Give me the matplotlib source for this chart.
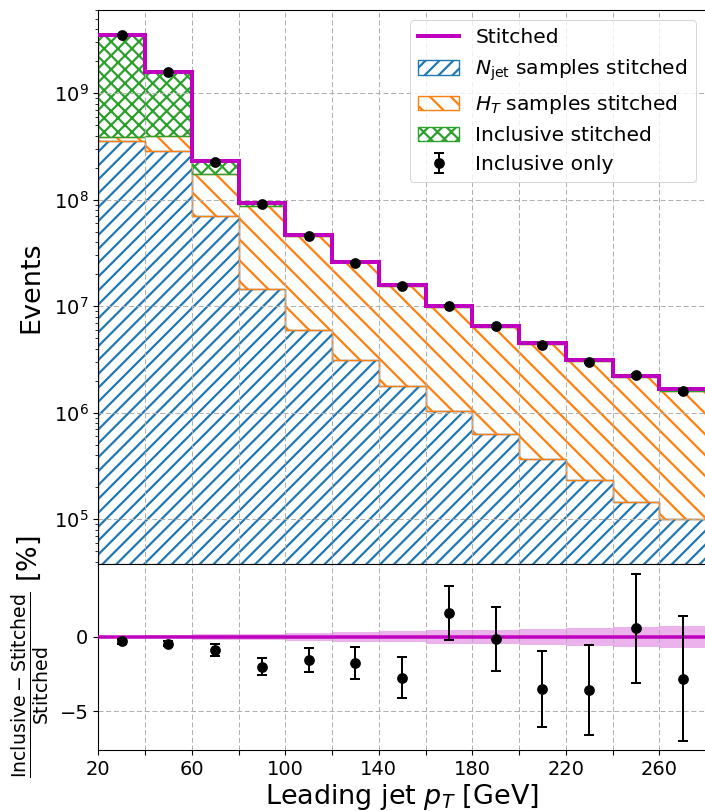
import matplotlib

matplotlib.use("Agg")
import matplotlib.pyplot as plt
import numpy as np

# hatch spacing scales with dpi, so the figure is drawn at 125 dpi; sizes are given in pixels
DPI = 125


def px(v):
    return v * 72.0 / DPI


edges = np.arange(20, 281, 20)

# stacked contributions per leading-jet pT bin
njet = [3.59e8, 2.89e8, 6.97e7, 1.44e7, 5.96e6, 3.11e6, 1.77e6, 1.04e6, 6.27e5, 3.67e5, 2.33e5, 1.46e5, 1.0e5]
ht = [2.8e7, 1.08e8, 1.03e8, 7.3e7, 4.0e7, 2.28e7, 1.38e7, 8.8e6, 5.75e6, 4.05e6, 2.8e6, 2.02e6, 1.5e6]
incl = [3.163e9, 1.203e9, 5.8e7, 6.6e6, 9.4e5, 3.0e5, 3.3e5, 1.6e5, 1.2e5, 1.0e5, 7.7e4, 6.4e4, 6.0e4]

# (inclusive - stitched) / stitched in percent, its error, and the stitched uncertainty band
ratio_pct = [-0.3, -0.45, -0.9, -2.0, -1.57, -1.75, -2.73, 1.61, -0.15, -3.5, -3.58, 0.58, -2.8]
ratio_err_pct = [0.15, 0.15, 0.4, 0.58, 0.8, 1.05, 1.37, 1.8, 2.15, 2.55, 3.04, 3.68, 4.2]
band_pct = [0.08, 0.1, 0.2, 0.22, 0.25, 0.31, 0.37, 0.45, 0.48, 0.54, 0.6, 0.67, 0.74]

plt.rcParams.update({
    "font.size": px(19.5),
    "legend.fontsize": px(20.3),
    "hatch.linewidth": px(2.2),
    "patch.linewidth": px(1.0),
    "lines.scale_dashes": False,
    "axes.linewidth": px(1.1),
    "axes.labelpad": px(3.5),
    "xtick.major.width": px(1.1),
    "ytick.major.width": px(1.1),
    "ytick.minor.width": px(0.8),
    "xtick.major.size": px(5),
    "ytick.major.size": px(5),
    "ytick.minor.size": px(2.8),
    "xtick.major.pad": px(4.9),
    "ytick.major.pad": px(4.9),
})

n = np.array(njet)
h = np.array(ht)
i = np.array(incl)
stitched = n + h + i
centers = 0.5 * (edges[:-1] + edges[1:])
ratio = np.array(ratio_pct)
rerr = np.array(ratio_err_pct)
band = np.array(band_pct)
incl_only = stitched * (1 + ratio / 100)
incl_only_err = stitched * rerr / 100

W, H = 705, 811
fig = plt.figure(figsize=(W / DPI, H / DPI), dpi=DPI)
left = 98.3 / W
width = (706 - 98.3) / W
ax = fig.add_axes([left, 1 - 564 / H, width, (564 - 10) / H])
rax = fig.add_axes([left, 1 - 750 / H, width, (750 - 564) / H], sharex=ax)

grid_kw = dict(color="#b0b0b0", linestyle=(0, (px(5), px(2.7))), linewidth=px(1.0))
base = 1.0
ew = px(1.4)

p_njet = ax.stairs(n, edges, baseline=base, fill=True, facecolor="none", edgecolor="#1f77b4",
                   hatch="///", linewidth=ew, label=r"$N_\mathrm{jet}$ samples stitched")
p_ht = ax.stairs(n + h, edges, baseline=n, fill=True, facecolor="none", edgecolor="#ff7f0e",
                 hatch="\\\\", linewidth=ew, label=r"$H_T$ samples stitched")
p_incl = ax.stairs(stitched, edges, baseline=n + h, fill=True, facecolor="none", edgecolor="#2ca02c",
                   hatch="xxx", linewidth=ew, label="Inclusive stitched")
p_tot = ax.stairs(stitched, edges, baseline=None, color="m", linewidth=px(4), zorder=3,
                  label="Stitched")
p_pts = ax.errorbar(centers, incl_only, yerr=incl_only_err, fmt="o", color="k", ms=px(9),
                    capsize=px(5), elinewidth=px(2), capthick=px(2), zorder=4,
                    label="Inclusive only")

ax.set_yscale("log")
ax.set_ylim(3.8e4, 6.05e9)
ax.set_ylabel("Events", fontsize=px(27))
ax.yaxis.set_label_coords(-0.088, 0.5)
ax.grid(True, **grid_kw)
ax.tick_params(labelbottom=False)
ax.legend(handles=[p_tot, p_njet, p_ht, p_incl, p_pts], loc="upper right")

# ratio panel
rax.stairs(band, edges, baseline=-band, fill=True, color="m", alpha=0.3, linewidth=0)
rax.axhline(0, color="m", linewidth=px(3.5), zorder=3)
rax.errorbar(centers, ratio, yerr=rerr, fmt="o", color="k", ms=px(9),
             capsize=px(5), elinewidth=px(2), capthick=px(2), zorder=4)
rax.set_ylim(-7.6, 4.9)
rax.set_yticks([-5, 0])
rax.set_xlim(20, 280)
rax.set_xticks(edges)
rax.set_xticklabels([str(e) if k % 2 == 0 else "" for k, e in enumerate(edges)])
rax.grid(True, **grid_kw)
rax.set_xlabel(r"Leading jet $p_T$ [GeV]", fontsize=px(27))
rax.set_ylabel(r"$\frac{\mathrm{Inclusive} - \mathrm{Stitched}}{\mathrm{Stitched}}$ [%]", fontsize=px(27))
rax.yaxis.set_label_coords(-0.076, 0.5)

fig.savefig("out.png", dpi=DPI)
